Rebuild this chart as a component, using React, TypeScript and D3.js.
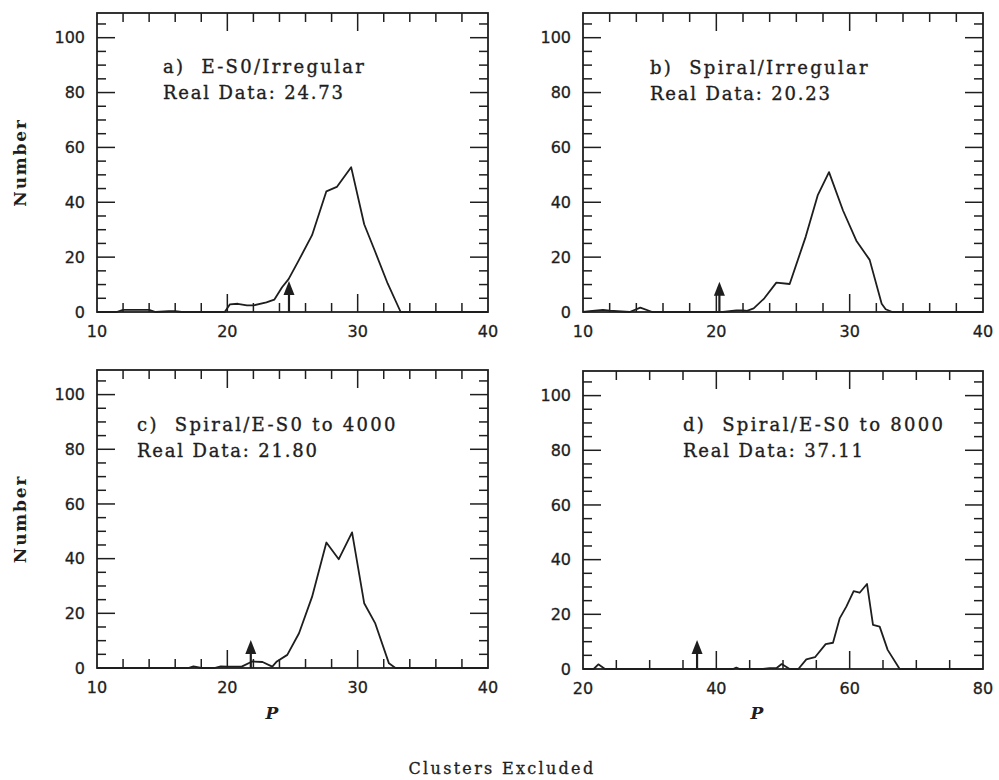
import React from "react";
import * as d3 from "d3";

// ---- data ----
const panelLabels = ["a)  E-S0/Irregular", "b)  Spiral/Irregular", "c)  Spiral/E-S0 to 4000", "d)  Spiral/E-S0 to 8000"];
const realDataLabels = ["Real Data: 24.73", "Real Data: 20.23", "Real Data: 21.80", "Real Data: 37.11"];
const arrowX = [24.73, 20.23, 21.8, 37.11];
const arrowTop = [11.3, 11, 10.2, 10.6];

const aX = [10, 11.5, 12, 14, 14.5, 15.5, 16, 16.5, 19.8, 20.2, 20.8, 21.5, 22, 23, 23.6, 24.2, 24.7, 25.5, 26.5, 27.6, 28.4, 29.5, 30.5, 31.3, 32.3, 33.3, 40];
const aY = [0, 0, 0.8, 0.8, 0, 0.3, 0.3, 0, 0, 2.8, 3, 2.4, 2.4, 3.5, 4.5, 9, 12, 19, 28, 44, 45.6, 52.8, 32, 22.5, 10.4, 0, 0];

const bX = [10, 10.5, 11.5, 12, 13.5, 14.3, 15.2, 20.5, 21.5, 22, 22.3, 22.8, 23.6, 24.5, 25.5, 26.7, 27.6, 28.45, 29.5, 30.5, 31.5, 32.4, 32.7, 33.2, 40];
const bY = [0, 0.3, 0.8, 0.5, 0, 1.6, 0, 0, 0.6, 0.6, 0.4, 1.3, 5, 10.7, 10.2, 27.4, 42.5, 51, 37, 26, 19, 3, 1, 0, 0];

const cX = [10, 17, 17.4, 18, 19, 19.5, 20, 21.1, 21.9, 22.7, 23.45, 23.8, 24.6, 25.5, 26.5, 27.6, 28.55, 29.57, 30.5, 31.35, 32.4, 32.9, 40];
const cY = [0, 0, 0.6, 0, 0, 0.6, 0.5, 0.5, 2.4, 2.2, 0.5, 2.4, 4.8, 12.7, 26, 45.9, 39.8, 49.6, 23.7, 16.3, 1.7, 0, 0];

const dX = [20, 21.6, 22.3, 23.3, 42.5, 43, 43.5, 47, 48, 49, 49.8, 51, 52.3, 53.5, 54.8, 56.4, 57.5, 58.5, 59.5, 60.6, 61.5, 62.6, 63.5, 64.5, 65.7, 67.5, 80];
const dY = [0, 0, 1.7, 0, 0, 0.5, 0, 0, 0.3, 0.3, 1.8, 0, 0, 3.5, 4.3, 9.1, 9.6, 18.5, 22.8, 28.5, 27.9, 31.1, 16.1, 15.5, 7, 0, 0];

const xDomains = [[10, 40], [10, 40], [10, 40], [20, 80]];
const xMajorTicks = [[10, 20, 30, 40], [10, 20, 30, 40], [10, 20, 30, 40], [20, 40, 60, 80]];
const xMinorStep = [2, 2, 2, 5];
const xMajorStep = [10, 10, 10, 20];
const yTickLabels = [0, 20, 40, 60, 80, 100];
const yMax = 109;

const seriesX = [aX, bX, cX, dX];
const seriesY = [aY, bY, cY, dY];

// ---- layout ----
const frames = [
  { l: 97, r: 488, t: 13, b: 312, tx: 163, ty: 73 },
  { l: 583, r: 983, t: 13, b: 312, tx: 650, ty: 74 },
  { l: 97, r: 488, t: 370, b: 668, tx: 137, ty: 431 },
  { l: 583, r: 983, t: 371, b: 669, tx: 683, ty: 431 },
];

const INK = "#1e1e1e";
const SANS = "'DejaVu Sans', sans-serif";
const SERIF = "'DejaVu Serif', serif";

function Panel({ i }: { i: number }) {
  const f = frames[i];
  const x = d3.scaleLinear().domain(xDomains[i]).range([f.l, f.r]);
  const y = d3.scaleLinear().domain([0, yMax]).range([f.b, f.t]);
  const [x0, x1] = xDomains[i];
  const xt = d3.range(x0, x1 + 1e-6, xMinorStep[i]);
  const yt = d3.range(0, yMax, 5);
  const MAJ = 18, MIN = 9;
  const pts: [number, number][] = seriesX[i].map((v, k) => [v, seriesY[i][k]]);
  const line = d3.line<[number, number]>().x((d) => x(d[0])).y((d) => y(d[1]));
  const ax = x(arrowX[i]);
  const tip = y(arrowTop[i]);
  const headH = 14, headW = 5.5;
  return (
    <g>
      {xt.map((v) => {
        const isMaj = Math.abs(v % xMajorStep[i]) < 1e-6;
        const L = isMaj ? MAJ : MIN;
        if (v === x0 || v === x1) return null;
        return (
          <g key={"x" + v} stroke={INK} strokeWidth={1.5}>
            <line x1={x(v)} x2={x(v)} y1={f.b} y2={f.b - L} />
            <line x1={x(v)} x2={x(v)} y1={f.t} y2={f.t + L} />
          </g>
        );
      })}
      {yt.map((v) => {
        const isMaj = v % 20 === 0;
        const L = isMaj ? MAJ : MIN;
        if (v === 0) return null;
        return (
          <g key={"y" + v} stroke={INK} strokeWidth={1.5}>
            <line x1={f.l} x2={f.l + L} y1={y(v)} y2={y(v)} />
            <line x1={f.r} x2={f.r - L} y1={y(v)} y2={y(v)} />
          </g>
        );
      })}
      <rect x={f.l} y={f.t} width={f.r - f.l} height={f.b - f.t} fill="none" stroke={INK} strokeWidth={1.8} />
      {yTickLabels.map((v) => (
        <text key={"yl" + v} x={f.l - 12} y={y(v)} dy="0.36em" textAnchor="end" fontFamily={SANS} fontSize={16} fill={INK} stroke={INK} strokeWidth={0.3}>
          {v}
        </text>
      ))}
      {xMajorTicks[i].map((v) => (
        <text key={"xl" + v} x={x(v)} y={f.b + 25} textAnchor="middle" fontFamily={SANS} fontSize={16} fill={INK} stroke={INK} strokeWidth={0.3}>
          {v}
        </text>
      ))}
      <path d={line(pts) || ""} fill="none" stroke={INK} strokeWidth={1.8} strokeLinejoin="round" />
      <line x1={ax} x2={ax} y1={y(0)} y2={tip + headH - 1} stroke={INK} strokeWidth={2.2} />
      <path d={`M${ax},${tip} L${ax - headW},${tip + headH} L${ax + headW},${tip + headH} Z`} fill={INK} />
      <text x={f.tx} y={f.ty} fontFamily={SERIF} fontSize={18} letterSpacing={2.3} fill={INK} stroke={INK} strokeWidth={0.35} style={{ whiteSpace: "pre" }}>
        {panelLabels[i]}
      </text>
      <text x={f.tx} y={f.ty + 26} fontFamily={SERIF} fontSize={18} letterSpacing={1.8} fill={INK} stroke={INK} strokeWidth={0.35} style={{ whiteSpace: "pre" }}>
        {realDataLabels[i]}
      </text>
    </g>
  );
}

export default function App() {
  return (
    <svg width={999} height={780} style={{ position: "absolute", left: 0, top: 0, background: "#fff" }}>
      <rect width={999} height={780} fill="#fff" />
      {[0, 1, 2, 3].map((i) => (
        <Panel key={i} i={i} />
      ))}
      {[frames[0], frames[2]].map((f, k) => (
        <text key={"num" + k} transform={`translate(26,${(f.t + f.b) / 2}) rotate(-90)`} textAnchor="middle" fontFamily={SERIF} fontWeight="bold" fontSize={17} letterSpacing={1.8} fill={INK}>
          Number
        </text>
      ))}
      <text x={272} y={719} textAnchor="middle" fontFamily={SERIF} fontStyle="italic" fontWeight="bold" fontSize={17} fill={INK}>P</text>
      <text x={757} y={719} textAnchor="middle" fontFamily={SERIF} fontStyle="italic" fontWeight="bold" fontSize={17} fill={INK}>P</text>
      <text x={502} y={774} textAnchor="middle" fontFamily={SERIF} fontSize={16} letterSpacing={2.3} fill={INK} stroke={INK} strokeWidth={0.3}>
        Clusters Excluded
      </text>
    </svg>
  );
}
